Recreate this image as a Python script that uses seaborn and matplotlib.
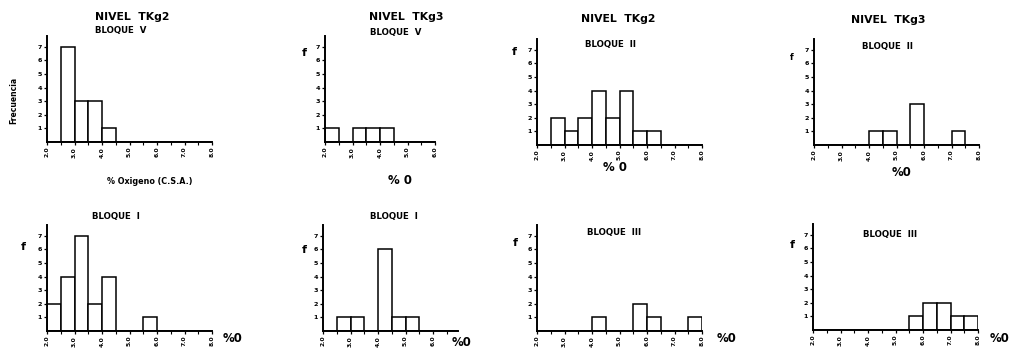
import numpy as np
import pandas as pd
import matplotlib
matplotlib.use("Agg")
import matplotlib.pyplot as plt
import seaborn as sns

sns.set_theme(style="white")
plt.rcParams['font.family'] = ['DejaVu Sans']

# ---------------- data ----------------
bin_edges = [2.0, 2.5, 3.0, 3.5, 4.0, 4.5, 5.0, 5.5, 6.0, 6.5, 7.0, 7.5, 8.0]
bin_centers = [2.25, 2.75, 3.25, 3.75, 4.25, 4.75, 5.25, 5.75, 6.25, 6.75, 7.25, 7.75]
x_tick_values = [2.0, 3.0, 4.0, 5.0, 6.0, 7.0, 8.0]
x_tick_labels = ["2.0", "3.0", "4.0", "5.0", "6.0", "7.0", "8.0"]
y_tick_values = [1, 2, 3, 4, 5, 6, 7]

counts_tkg2_bloque_v = [0, 7, 3, 3, 1, 0, 0, 0, 0, 0, 0, 0]
counts_tkg3_bloque_v = [1, 0, 1, 1, 1, 0, 0, 0, 0, 0, 0, 0]
counts_tkg2_bloque_ii = [0, 2, 1, 2, 4, 2, 4, 1, 1, 0, 0, 0]
counts_tkg3_bloque_ii = [0, 0, 0, 0, 1, 1, 0, 3, 0, 0, 1, 0]
counts_tkg2_bloque_i = [2, 4, 7, 2, 4, 0, 0, 1, 0, 0, 0, 0]
counts_tkg3_bloque_i = [0, 1, 1, 0, 6, 1, 1, 0, 0, 0, 0, 0]
counts_tkg2_bloque_iii = [0, 0, 0, 0, 1, 0, 0, 2, 1, 0, 0, 1]
counts_tkg3_bloque_iii = [0, 0, 0, 0, 0, 0, 0, 1, 2, 2, 1, 1]

# ---------------- layout (pixels) ----------------
W, H = 1011, 349
UNIT_X = 27.5     # px per 1.0 %O
UNIT_Y = 13.6     # px per count
YMAX = 7.8

panels = [
    # counts, left px (x=2.0), baseline px, xmax
    (counts_tkg2_bloque_v, 47, 142, 8.0),
    (counts_tkg3_bloque_v, 325, 142, 6.0),
    (counts_tkg2_bloque_ii, 537, 145, 8.0),
    (counts_tkg3_bloque_ii, 814, 145, 8.0),
    (counts_tkg2_bloque_i, 47, 331, 8.0),
    (counts_tkg3_bloque_i, 323, 331, 6.9),
    (counts_tkg2_bloque_iii, 537, 331, 8.0),
    (counts_tkg3_bloque_iii, 813, 330, 8.0),
]

fig = plt.figure(figsize=(W / 100, H / 100), dpi=100)
fig.patch.set_facecolor("white")

for counts, left, base, xmax in panels:
    w = (xmax - 2.0) * UNIT_X
    h = YMAX * UNIT_Y
    ax = fig.add_axes([left / W, 1 - base / H, w / W, h / H])
    df = pd.DataFrame({"oxigeno": bin_centers, "frecuencia": counts})
    sns.histplot(data=df, x="oxigeno", weights="frecuencia", bins=bin_edges,
                 ax=ax, color="white", edgecolor="black", linewidth=1.1,
                 alpha=1.0, element="bars")
    ax.set_xlim(2.0, xmax)
    ax.set_ylim(0, YMAX)
    sns.despine(ax=ax)
    for s in ("left", "bottom"):
        ax.spines[s].set_color("black")
        ax.spines[s].set_linewidth(1.4)
    ticks = [(v, l) for v, l in zip(x_tick_values, x_tick_labels) if v <= xmax + 1e-9]
    ax.set_xticks([t[0] for t in ticks])
    ax.set_xticklabels([t[1] for t in ticks], rotation=90, fontsize=4.3,
                       fontweight="bold")
    ax.set_xticks([v + 0.5 for v in x_tick_values if v + 0.5 < xmax], minor=True)
    ax.set_yticks(y_tick_values)
    ax.set_yticklabels([str(v) for v in y_tick_values], fontsize=4.6,
                       fontweight="bold")
    ax.tick_params(axis="both", which="major", bottom=True, left=True,
                   length=2, width=0.9, pad=1.5, colors="black", direction="out")
    ax.tick_params(axis="x", which="minor", bottom=True, length=1.8, width=0.8,
                   color="black")
    ax.set_xlabel("")
    ax.set_ylabel("")
    ax.set_facecolor("white")


def txt(x, y, s, size, ha="left", rot=0, weight="bold"):
    fig.text(x / W, 1 - y / H, s, fontsize=size, ha=ha, va="center",
             rotation=rot, fontweight=weight, color="black")


# titles
txt(132, 17, "NIVEL  TKg2", 7.8, ha="center")
txt(95, 31, "BLOQUE  V", 6.2)
txt(406, 17, "NIVEL  TKg3", 7.8, ha="center")
txt(370, 32, "BLOQUE  V", 6.2)
txt(618, 19, "NIVEL  TKg2", 7.8, ha="center")
txt(585, 45, "BLOQUE  II", 6.2)
txt(888, 20, "NIVEL  TKg3", 7.8, ha="center")
txt(862, 47, "BLOQUE  II", 6.2)
txt(92, 217, "BLOQUE  I", 6.2)
txt(370, 217, "BLOQUE  I", 6.2)
txt(587, 233, "BLOQUE  III", 6.2)
txt(863, 235, "BLOQUE  III", 6.2)

# axis labels
txt(14, 100, "Frecuencia", 5.5, ha="center", rot=90)
txt(302, 53, "f", 8)
txt(512, 52, "f", 8)
txt(790, 57, "f", 6)
txt(21, 247, "f", 8)
txt(302, 250, "f", 8)
txt(513, 243, "f", 8)
txt(790, 245, "f", 8)

txt(150, 182, "% Oxigeno (C.S.A.)", 5.8, ha="center")
txt(400, 180, "% 0", 8.5, ha="center")
txt(615, 168, "% 0", 8.5, ha="center")
txt(902, 172, "%0", 8.5, ha="center")
txt(223, 338, "%0", 8.5)
txt(452, 343, "%0", 8.5)
txt(717, 338, "%0", 8.5)
txt(990, 338, "%0", 8.5)

fig.savefig("out.png", dpi=100, facecolor="white")
